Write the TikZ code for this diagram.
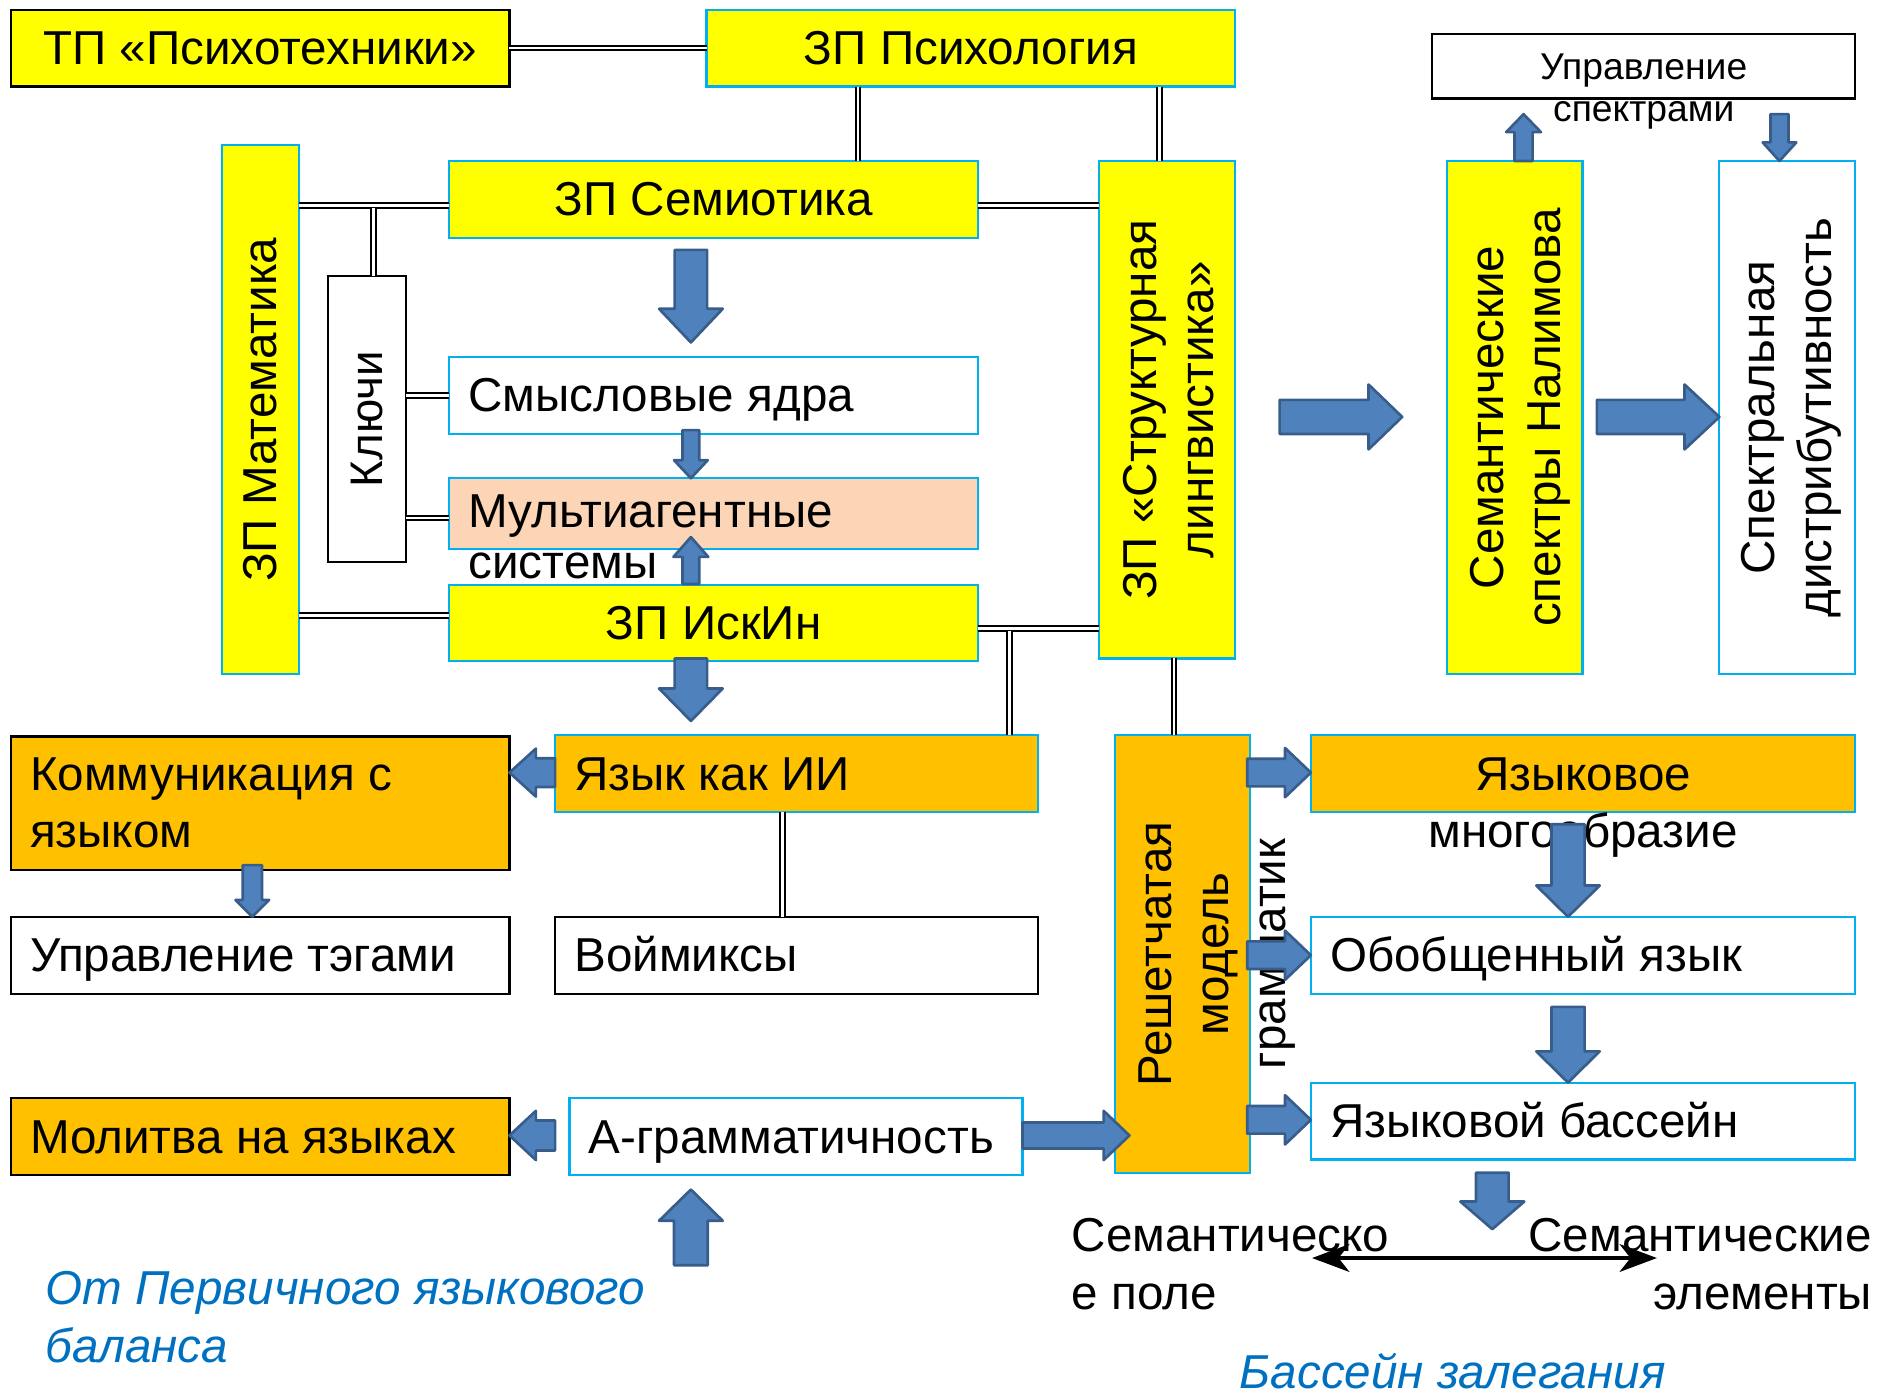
\documentclass[tikz,border=0pt]{standalone}
\usepackage{fontspec}
\usepackage{graphicx}
\setmainfont{Liberation Sans}
\usetikzlibrary{calc,arrows.meta}
\definecolor{cyel}{HTML}{FFFF00}
\definecolor{corn}{HTML}{FFC000}
\definecolor{cpch}{HTML}{FBD5B5}
\definecolor{cbrd}{HTML}{00B0F0}
\definecolor{cafl}{HTML}{4F81BD}
\definecolor{cadr}{HTML}{385D8A}
\definecolor{citb}{HTML}{0070C0}
\newcommand\tb[2]{\smash{\begin{tabular}[t]{@{}#1@{}}#2\end{tabular}}}
\newcommand\bt[3]{\makebox[#1][#2]{\tb{#2}{#3}}}
\newcommand\rt[2]{\makebox[0pt]{\hspace*{#1}\rotatebox{90}{\begin{tabular}{@{}c@{}}#2\end{tabular}}}}
\newcommand\boxat[6][]{\node[#1, minimum width={#5-#3}, minimum height={#6-#4}] (#2) at ({(#3+#5)/2},{(#4+#6)/2})}
\newcommand\barrow[5]{%
  \coordinate (ba-A) at #1; \coordinate (ba-B) at #2;
  \coordinate (ba-C) at ($(ba-B)!#5pt!(ba-A)$);
  \draw[blockarrow] ($(ba-A)!#3pt!90:(ba-B)$) -- ($(ba-C)!#3pt!-90:(ba-A)$) -- ($(ba-C)!#4pt!-90:(ba-A)$) -- (ba-B) -- ($(ba-C)!#4pt!90:(ba-A)$) -- ($(ba-C)!#3pt!90:(ba-A)$) -- ($(ba-A)!#3pt!-90:(ba-B)$) -- cycle;}
\tikzset{
  boxb/.style={draw, line width=1.8pt, inner sep=0pt, outer sep=0pt, font=\fontsize{39.6pt}{47.5pt}\selectfont},
  bk/.style={draw=black},
  bl/.style={draw=cbrd},
  hz/.style={text height=35.84pt, text depth=8.4pt},
  txt/.style={inner sep=0pt, outer sep=0pt, text height=35.84pt, text depth=8.4pt, font=\fontsize{39.6pt}{48pt}\selectfont},
  dl/.style={draw=black, double, double distance=2.2pt, line width=1.7pt},
  blockarrow/.style={fill=cafl, draw=cadr, line width=2.2pt, line join=round},
}
\begin{document}
\begin{tikzpicture}[x=1pt,y=-1pt]
\useasboundingbox (0,0) rectangle (1568,1163);
% ---- boxes
\boxat[boxb,bk,fill=cyel,hz]{tp}{9}{8}{424}{72}{ТП «Психотехники»};
\boxat[boxb,bl,fill=cyel,hz]{psy}{588}{8}{1028}{72}{ЗП Психология};
\boxat[boxb,bl,fill=cyel,hz]{sem}{374}{134}{814}{198}{ЗП Семиотика};
\boxat[boxb,bl,fill=cyel]{mat}{185}{121}{249}{561}{\rt{8pt}{ЗП Математика}};
\boxat[boxb,bk,fill=white,font=\fontsize{38pt}{46pt}\selectfont]{klu}{273}{230}{338}{468}{\rt{7pt}{Ключи}};
\boxat[boxb,bl,fill=white,hz]{smy}{374}{297}{814}{361}{\bt{408pt}{l}{Смысловые ядра}};
\boxat[boxb,bl,fill=cpch,hz,text depth=13.4pt,font=\fontsize{39.6pt}{42.5pt}\selectfont]{mul}{374}{398}{814}{457}{\bt{408pt}{l}{Мультиагентные\\системы}};
\boxat[boxb,bl,fill=cyel,hz]{isk}{374}{487}{814}{550}{ЗП ИскИн};
\boxat[boxb,bl,fill=cyel]{str}{915}{134}{1028}{548}{\rt{10pt}{ЗП «Структурная\\лингвистика»}};
\boxat[boxb,bk,fill=white,font=\fontsize{31pt}{35.5pt}\selectfont,text height=28.1pt,text depth=6.6pt]{ups}{1192}{28}{1544}{82}{\tb{c}{Управление\\спектрами}};
\boxat[boxb,bl,fill=cyel]{nal}{1204}{134}{1317}{561}{\rt{10pt}{Семантические\\спектры Налимова}};
\boxat[boxb,bl,fill=white]{dis}{1431}{134}{1544}{561}{\rt{7pt}{Спектральная\\дистрибутивность}};
\boxat[boxb,bk,fill=corn,hz,text depth=57.4pt]{kom}{9}{613}{424}{724}{\bt{383pt}{l}{Коммуникация с\\языком}};
\boxat[boxb,bl,fill=corn,hz]{yii}{462}{612}{864}{676}{\bt{370pt}{l}{Язык как ИИ}};
\boxat[boxb,bk,fill=white,hz]{teg}{9}{763}{424}{827}{\bt{383pt}{l}{Управление тэгами}};
\boxat[boxb,bk,fill=white,hz]{voi}{462}{763}{864}{827}{\bt{370pt}{l}{Воймиксы}};
\boxat[boxb,bk,fill=corn,hz]{mol}{9}{914}{424}{978}{\bt{383pt}{l}{Молитва на языках}};
\boxat[boxb,bl,fill=white,hz]{agr}{474}{914}{851}{978}{\bt{345pt}{l}{А-грамматичность}};
\boxat[boxb,bl,fill=corn]{res}{928}{612}{1040}{976}{\rt{58pt}{Решетчатая\\модель\\грамматик}};
\boxat[boxb,bl,fill=corn,hz]{mno}{1091}{612}{1544}{676}{\tb{c}{Языковое\\многообразие}};
\boxat[boxb,bl,fill=white,hz]{obo}{1091}{763}{1544}{827}{\bt{421pt}{l}{Обобщенный язык}};
\boxat[boxb,bl,fill=white,hz]{bas}{1091}{901}{1544}{965}{\bt{421pt}{l}{Языковой бассейн}};
% ---- free texts
\node[txt, anchor=west] (spole) at (892,1028) {\tb{l}{Семантическо\\е поле}};
\node[txt, anchor=east] (selem) at (1558,1028) {\tb{r}{Семантические\\элементы}};
\node[txt, anchor=west, text=citb, font=\fontsize{39.6pt}{48pt}\selectfont\itshape] (perv) at (38,1072) {\tb{l}{От Первичного языкового\\баланса}};
\node[txt, text=citb, font=\fontsize{39.6pt}{48pt}\selectfont\itshape] (zaleg) at (1209,1142) {Бассейн залегания};
% ---- double-line connectors
\coordinate (xa) at (714,0);
\coordinate (xb) at (965,0);
\coordinate (xk) at (311,0);
\coordinate (xc) at (840,0);
\coordinate (xd) at (651,0);
\coordinate (xe) at (977,0);
\coordinate (ya) at (0,171);
\coordinate (yb) at (0,512);
\coordinate (yc) at (0,523);
\coordinate (yd) at (0,329);
\coordinate (ye) at (0,431);
\draw[dl] (tp.east) -- (psy.west);
\draw[dl] (psy.south -| xa) -- (sem.north -| xa);
\draw[dl] (psy.south -| xb) -- (str.north -| xb);
\draw[dl] (mat.east |- ya) -- (sem.west |- ya);
\draw[dl] (sem.east |- ya) -- (str.west |- ya);
\draw[dl] (klu.north -| xk) -- ($(xk |- ya)+(0,2.5)$);
\draw[dl] (klu.east |- yd) -- (smy.west |- yd);
\draw[dl] (klu.east |- ye) -- (mul.west |- ye);
\draw[dl] (mat.east |- yb) -- (isk.west |- yb);
\draw[dl] (isk.east |- yc) -- (str.west |- yc);
\draw[dl] ($(xc |- yc)+(0,2.5)$) -- (yii.north -| xc);
\draw[dl] (str.south -| xe) -- (res.north -| xe);
\draw[dl] (yii.south -| xd) -- (voi.north -| xd);
% ---- block arrows
\coordinate (ax1) at (575,0);
\coordinate (ax2) at (210,0);
\coordinate (ax3) at (1268,0);
\coordinate (ax4) at (1481,0);
\coordinate (ax5) at (1305,0);
\coordinate (ax6) at (1242,0);
\coordinate (ay1) at (0,643);
\coordinate (ay2) at (0,945);
\coordinate (ay3) at (0,347);
\coordinate (ay4) at (0,795);
\coordinate (ay5) at (0,932);
\barrow{($(sem.south -| ax1)+(0,10)$)}{($(smy.north -| ax1)+(0,-12)$)}{13.5}{26.5}{28}
\barrow{($(smy.south -| ax1)+(0,-3)$)}{(mul.north -| ax1)}{7}{14}{15}
\barrow{($(isk.north -| ax1)+(0,-1)$)}{($(mul.south -| ax1)+(0,-10)$)}{7}{14.5}{16.5}
\barrow{($(isk.south -| ax1)+(0,-2)$)}{($(yii.north -| ax1)+(0,-12)$)}{13.5}{26.5}{27}
\barrow{(yii.west |- ay1)}{(kom.east |- ay1)}{12}{20}{22}
\barrow{($(kom.south -| ax2)+(0,-4)$)}{(teg.north -| ax2)}{8}{14}{14}
\barrow{($(agr.west |- ay2)+(-12,0)$)}{(mol.east |- ay2)}{12.5}{20.5}{22}
\barrow{($(agr.south -| ax1)+(0,75)$)}{($(agr.south -| ax1)+(0,12)$)}{14}{26.5}{26}
\barrow{(agr.east |- ay2)}{($(res.west |- ay2)+(12,0)$)}{10.8}{20.5}{21.5}
\barrow{($(str.east |- ay3)+(37,0)$)}{($(nal.west |- ay3)+(-37,0)$)}{14.2}{27}{28}
\barrow{($(nal.east |- ay3)+(12,0)$)}{(dis.west |- ay3)}{14.2}{27}{29}
\barrow{(nal.north -| ax3)}{($(ups.south -| ax3)+(0,13)$)}{7.5}{14.5}{15}
\barrow{($(ups.south -| ax4)+(0,13)$)}{(dis.north -| ax4)}{7.5}{14}{15.5}
\barrow{($(res.east |- ay1)+(-2,0)$)}{(mno.west |- ay1)}{11.5}{20.5}{21.5}
\barrow{($(res.east |- ay4)+(-2,0)$)}{(obo.west |- ay4)}{11.5}{20.5}{21.5}
\barrow{($(res.east |- ay5)+(-2,0)$)}{(bas.west |- ay5)}{11.5}{20.5}{21.5}
\barrow{($(mno.south -| ax5)+(0,10)$)}{(obo.north -| ax5)}{13.8}{26.4}{26}
\barrow{($(obo.south -| ax5)+(0,11)$)}{(bas.north -| ax5)}{13.8}{26.4}{26}
\coordinate (bdown) at ($(bas.south -| ax6)+(0,58)$);
\barrow{($(bas.south -| ax6)+(0,11)$)}{(bdown)}{13.6}{26.6}{23}
% ---- double arrow
\coordinate (dal) at (1092,1047);
\coordinate (dar) at (1379,1047);
\draw[line width=3.5pt, {Stealth[length=31pt,width=23pt,inset=9pt]}-{Stealth[length=31pt,width=23pt,inset=9pt]}] (dal) -- (dar);
\end{tikzpicture}
\end{document}
